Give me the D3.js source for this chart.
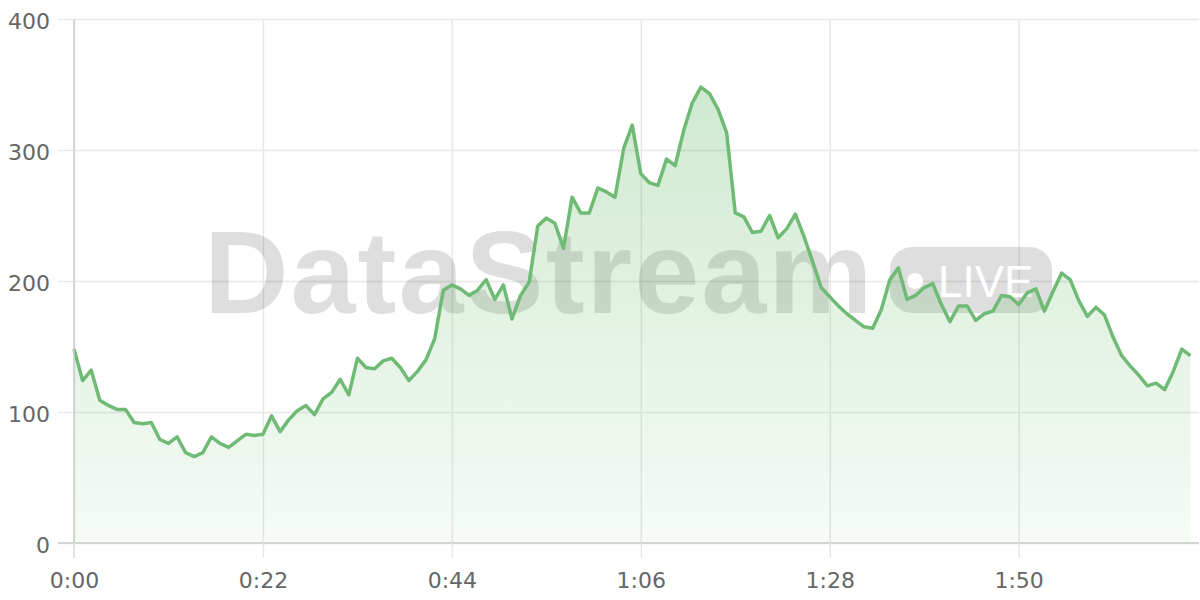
<!DOCTYPE html>
<html>
<head>
<meta charset="utf-8">
<script src="https://cdn.jsdelivr.net/npm/d3@7"></script>
<style>
  html, body { margin: 0; padding: 0; background: #fff; }
  svg { display: block; }
</style>
</head>
<body>
<svg id="chart" width="1200" height="600"></svg>
<script>
// ---- data ----
const minutes = d3.range(0, 131); // one sample per minute, 0:00 .. 2:10
const values = [
  148,124,132,109,105,102,102,92,91,92,
  79,76,81,69,66,69,81,76,73,78,
  83,82,83,97,85,94,101,105,98,110,
  115,125,113,141,134,133,139,141,134,124,
  131,140,156,193,197,194,189,193,201,186,
  197,171,189,199,242,248,244,225,264,252,
  252,271,268,264,301,319,282,275,273,293,
  288,315,336,348,343,331,313,252,249,237,
  238,250,233,240,251,234,215,195,188,181,
  175,170,165,164,178,201,210,186,189,195,
  198,182,169,181,181,170,175,177,189,188,
  182,191,194,177,192,206,201,185,173,180,
  174,157,143,135,128,120,122,117,131,148,
  143
];
const xTickValues = [0, 22, 44, 66, 88, 110];
const xTickLabels = ["0:00", "0:22", "0:44", "1:06", "1:28", "1:50"];
const yTickValues = [0, 100, 200, 300, 400];
const watermarkText = "DataStream";
const badgeText = "LIVE";

// ---- layout ----
const pL = 74, pR = 1199, pT = 19, pB = 543;
const svg = d3.select("#chart");
const x = d3.scaleLinear().domain([0, 131]).range([pL, pR]);
const y = d3.scaleLinear().domain([0, 400]).range([pB, pT]);
const FONT = "'DejaVu Sans', sans-serif";

// gradient
const defs = svg.append("defs");
const grad = defs.append("linearGradient").attr("id", "areaGrad")
  .attr("gradientUnits", "userSpaceOnUse")
  .attr("x1", 0).attr("y1", pT).attr("x2", 0).attr("y2", pB);
grad.append("stop").attr("offset", "0%").attr("stop-color", "#4caf50").attr("stop-opacity", 0.30);
grad.append("stop").attr("offset", "100%").attr("stop-color", "#4caf50").attr("stop-opacity", 0.05);

// horizontal grid
const yGrid = svg.append("g").attr("transform", `translate(${pL},0)`)
  .call(d3.axisLeft(y).tickValues(yTickValues).tickSize(-(pR - pL)).tickFormat(""));
yGrid.select(".domain").remove();
yGrid.selectAll("line").attr("stroke", "#e8e8e8").attr("stroke-width", 1.5);

// vertical grid
const xGrid = svg.append("g").attr("transform", `translate(0,${pB})`)
  .call(d3.axisBottom(x).tickValues(xTickValues).tickSize(-(pB - pT)).tickFormat(""));
xGrid.select(".domain").remove();
xGrid.selectAll("line").attr("stroke", "#e8e8e8").attr("stroke-width", 1.5);

// watermark
const wm = svg.append("g").attr("class", "watermark");
wm.append("text").attr("x", 204).attr("y", 313)
  .attr("font-family", "'Liberation Sans', Arial, sans-serif")
  .attr("font-weight", "bold").attr("font-size", 117)
  .attr("letter-spacing", 2)
  .attr("fill", "#000").attr("fill-opacity", 0.13)
  .text(watermarkText);
wm.append("rect").attr("x", 890).attr("y", 247).attr("width", 162).attr("height", 66)
  .attr("rx", 22).attr("fill", "#000").attr("fill-opacity", 0.13);
wm.append("circle").attr("cx", 915).attr("cy", 281).attr("r", 8).attr("fill", "#fff");
wm.append("text").attr("x", 938).attr("y", 297)
  .attr("font-family", "'Liberation Sans', Arial, sans-serif")
  .attr("font-size", 44).attr("fill", "#fff")
  .text(badgeText);

// area + line
const area = d3.area().x((d, i) => x(minutes[i])).y0(y(0)).y1(d => y(d));
const line = d3.line().x((d, i) => x(minutes[i])).y(d => y(d));
svg.append("path").datum(values).attr("d", area).attr("fill", "url(#areaGrad)");
svg.append("path").datum(values).attr("d", line)
  .attr("fill", "none").attr("stroke", "#6fbb75").attr("stroke-width", 3.5)
  .attr("stroke-linejoin", "round");

// y axis
const yAxis = svg.append("g").attr("transform", `translate(${pL},0)`)
  .call(d3.axisLeft(y).tickValues(yTickValues).tickSize(16).tickPadding(8));
yAxis.select(".domain").attr("stroke", "#cccccc").attr("stroke-width", 1.5)
  .attr("d", `M0,${pT}V${pB + 15}`);
yAxis.selectAll(".tick line").attr("stroke", "#e8e8e8").attr("stroke-width", 1.5);
yAxis.selectAll(".tick text").attr("font-family", FONT).attr("font-size", 22)
  .attr("fill", "#666").attr("dy", "0.45em");

// x axis
const xAxis = svg.append("g").attr("transform", `translate(0,${pB})`)
  .call(d3.axisBottom(x).tickValues(xTickValues).tickSize(15).tickPadding(14)
    .tickFormat((d, i) => xTickLabels[i]));
xAxis.select(".domain").attr("stroke", "#cccccc").attr("stroke-width", 1.5)
  .attr("d", `M${pL - 16},0H${pR}`);
xAxis.selectAll(".tick line").attr("stroke", "#e8e8e8").attr("stroke-width", 1.5);
xAxis.selectAll(".tick text").attr("font-family", FONT).attr("font-size", 22).attr("fill", "#666");
</script>
</body>
</html>
